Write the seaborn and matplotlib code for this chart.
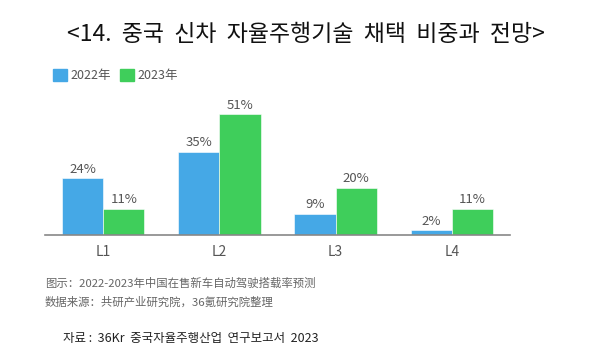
import matplotlib.pyplot as plt
import matplotlib.patches as mpatches
import pandas as pd
import seaborn as sns

levels = ["L1", "L2", "L3", "L4"]
share_2022 = [24, 35, 9, 2]
share_2023 = [11, 51, 20, 11]
years = ["2022年", "2023年"]

title = "<14.  중국  신차  자율주행기술  채택  비중과  전망>"
note_1 = "图示：2022-2023年中国在售新车自动驾驶搭载率预测"
note_2 = "数据来源：共研产业研究院，36氪研究院整理"
source = "자료 :  36Kr  중국자율주행산업  연구보고서  2023"

df = pd.DataFrame({
    "level": levels * 2,
    "year": [years[0]] * 4 + [years[1]] * 4,
    "share": share_2022 + share_2023,
})

sns.set_theme(style="white")
plt.rcParams["font.family"] = ["Noto Sans CJK KR", "DejaVu Sans"]

colors = ["#45a8e6", "#3fce5b"]

fig = plt.figure(figsize=(6, 3.59), dpi=100)
ax = fig.add_axes([0.075, 0.345, 0.775, 0.396])

sns.barplot(data=df, x="level", y="share", hue="year", palette=colors,
            width=0.71, saturation=1, edgecolor="white", linewidth=0.4,
            legend=False, ax=ax)

for cont in ax.containers:
    ax.bar_label(cont, fmt="%d%%", padding=2, fontsize=9.5, color="#555555")

ax.set_xlim(-0.5, 3.5)
ax.set_ylim(0, 60)
ax.set_xlabel("")
ax.set_ylabel("")
ax.set_yticks([])
for side in ["top", "right", "left"]:
    ax.spines[side].set_visible(False)
ax.spines["bottom"].set_color("#888888")
ax.spines["bottom"].set_linewidth(1.2)
ax.tick_params(axis="x", length=0, pad=7, labelsize=10, labelcolor="#555555")

fig.text(0.51, 0.905, title, ha="center", va="center", fontsize=16.5,
         color="#111111")

handles = [mpatches.Patch(color=c, label=y) for c, y in zip(colors, years)]
fig.legend(handles=handles, loc="center left", bbox_to_anchor=(0.07, 0.79),
           ncol=2, frameon=False, fontsize=9, handlelength=1.1,
           handleheight=1.1, handletextpad=0.3, columnspacing=0.7,
           labelcolor="#555555")

fig.text(0.075, 0.212, note_1, ha="left", va="center", fontsize=8.2,
         color="#666666", family=["Noto Sans CJK SC", "DejaVu Sans"])
fig.text(0.075, 0.158, note_2, ha="left", va="center", fontsize=8.2,
         color="#666666", family=["Noto Sans CJK SC", "DejaVu Sans"])
fig.text(0.105, 0.058, source, ha="left", va="center", fontsize=9,
         color="#222222")

fig.savefig("out.png", dpi=100)
